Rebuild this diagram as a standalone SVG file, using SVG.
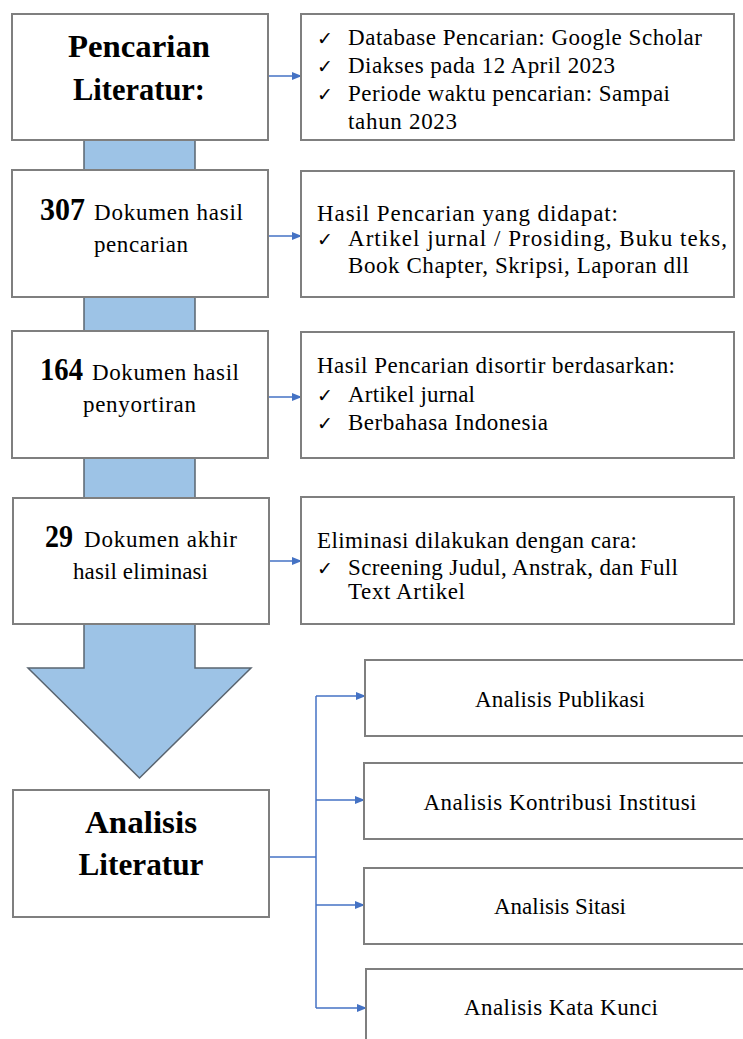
<svg xmlns="http://www.w3.org/2000/svg" width="743" height="1039" viewBox="0 0 743 1039">
<style>
.box{fill:#ffffff;stroke:#7f7f7f;stroke-width:2}
.t{font-family:"Liberation Serif","Times New Roman",serif;fill:#000}
.b{font-weight:bold}
.r{font-size:23px}
.ck{font-family:"DejaVu Sans",sans-serif;font-size:19px;fill:#000}
.con{fill:none;stroke:#4472c4;stroke-width:1.5}
</style>
<defs>
<marker id="ah" markerWidth="10" markerHeight="10" refX="9" refY="5" orient="auto" markerUnits="userSpaceOnUse">
<path d="M0,1 L10,5 L0,9 Z" fill="#4472c4"/>
</marker>
</defs>
<rect width="743" height="1039" fill="#ffffff"/>
<g id="big-arrow">
<polygon points="84,140 195,140 195,668 251,668 139.5,778 28,668 84,668" fill="#9dc3e6" stroke="#5a6570" stroke-width="1.5"/>
</g>
<g id="connectors">
<line class="con" x1="268" y1="76" x2="301" y2="76" marker-end="url(#ah)"/>
<line class="con" x1="268" y1="236" x2="301" y2="236" marker-end="url(#ah)"/>
<line class="con" x1="268" y1="397" x2="301" y2="397" marker-end="url(#ah)"/>
<line class="con" x1="268" y1="561" x2="301" y2="561" marker-end="url(#ah)"/>
<polyline class="con" points="269,857 316,857"/>
<line class="con" x1="316" y1="696" x2="316" y2="1008"/>
<line class="con" x1="316" y1="696" x2="365" y2="696" marker-end="url(#ah)"/>
<line class="con" x1="316" y1="800" x2="364" y2="800" marker-end="url(#ah)"/>
<line class="con" x1="316" y1="905" x2="364" y2="905" marker-end="url(#ah)"/>
<line class="con" x1="316" y1="1008" x2="366" y2="1008" marker-end="url(#ah)"/>
</g>
<g id="node-pencarian">
<rect class="box" x="12" y="14" width="256" height="126"/>
<text class="t b" font-size="31" x="139" y="57" text-anchor="middle" textLength="142" lengthAdjust="spacingAndGlyphs">Pencarian</text>
<text class="t b" font-size="31" x="139" y="100" text-anchor="middle" textLength="132" lengthAdjust="spacingAndGlyphs">Literatur:</text>
</g>
<g id="node-307">
<rect class="box" x="12" y="170" width="256" height="127"/>
<text class="t b" font-size="31" x="40" y="220" textLength="45" lengthAdjust="spacingAndGlyphs">307</text>
<text class="t r" x="94" y="220" textLength="149" lengthAdjust="spacing">Dokumen hasil</text>
<text class="t r" x="94" y="252" textLength="94" lengthAdjust="spacing">pencarian</text>
</g>
<g id="node-164">
<rect class="box" x="12" y="331" width="256" height="127"/>
<text class="t b" font-size="31" x="40" y="380" textLength="43" lengthAdjust="spacingAndGlyphs">164</text>
<text class="t r" x="92" y="380" textLength="147" lengthAdjust="spacing">Dokumen hasil</text>
<text class="t r" x="83" y="412" textLength="113" lengthAdjust="spacing">penyortiran</text>
</g>
<g id="node-29">
<rect class="box" x="13" y="498" width="256" height="126"/>
<text class="t b" font-size="31" x="45" y="547" textLength="28" lengthAdjust="spacingAndGlyphs">29</text>
<text class="t r" x="84" y="547" textLength="153" lengthAdjust="spacing">Dokumen akhir</text>
<text class="t r" x="73" y="579" textLength="135" lengthAdjust="spacing">hasil eliminasi</text>
</g>
<g id="node-analisis-literatur">
<rect class="box" x="13" y="790" width="256" height="127"/>
<text class="t b" font-size="31" x="141" y="833" text-anchor="middle" textLength="112" lengthAdjust="spacingAndGlyphs">Analisis</text>
<text class="t b" font-size="31" x="141" y="875" text-anchor="middle" textLength="125" lengthAdjust="spacingAndGlyphs">Literatur</text>
</g>
<g id="node-info-1">
<rect class="box" x="301" y="14" width="433" height="126"/>
<text class="ck" x="317" y="45">✓</text>
<text class="t r" x="348" y="45" textLength="354" lengthAdjust="spacing">Database Pencarian: Google Scholar</text>
<text class="ck" x="317" y="73">✓</text>
<text class="t r" x="348" y="73" textLength="267" lengthAdjust="spacing">Diakses pada 12 April 2023</text>
<text class="ck" x="317" y="101">✓</text>
<text class="t r" x="348" y="101" textLength="322" lengthAdjust="spacing">Periode waktu pencarian: Sampai</text>
<text class="t r" x="348" y="129" textLength="109" lengthAdjust="spacing">tahun 2023</text>
</g>
<g id="node-info-2">
<rect class="box" x="301" y="171" width="433" height="126"/>
<text class="t r" x="317" y="221" textLength="301" lengthAdjust="spacing">Hasil Pencarian yang didapat:</text>
<text class="ck" x="317" y="246">✓</text>
<text class="t r" x="348" y="246" textLength="379" lengthAdjust="spacing">Artikel jurnal / Prosiding, Buku teks,</text>
<text class="t r" x="348" y="273" textLength="341" lengthAdjust="spacing">Book Chapter, Skripsi, Laporan dll</text>
</g>
<g id="node-info-3">
<rect class="box" x="301" y="332" width="433" height="126"/>
<text class="t r" x="317" y="373" textLength="358" lengthAdjust="spacing">Hasil Pencarian disortir berdasarkan:</text>
<text class="ck" x="317" y="402">✓</text>
<text class="t r" x="348" y="402" textLength="127" lengthAdjust="spacing">Artikel jurnal</text>
<text class="ck" x="317" y="430">✓</text>
<text class="t r" x="348" y="430" textLength="200" lengthAdjust="spacing">Berbahasa Indonesia</text>
</g>
<g id="node-info-4">
<rect class="box" x="301" y="497" width="433" height="127"/>
<text class="t r" x="317" y="548" textLength="320" lengthAdjust="spacing">Eliminasi dilakukan dengan cara:</text>
<text class="ck" x="317" y="575">✓</text>
<text class="t r" x="348" y="575" textLength="330" lengthAdjust="spacing">Screening Judul, Anstrak, dan Full</text>
<text class="t r" x="348" y="599" textLength="117" lengthAdjust="spacing">Text Artikel</text>
</g>
<g id="node-publikasi">
<rect class="box" x="365" y="660" width="390" height="76"/>
<text class="t r" x="560" y="707" text-anchor="middle" textLength="170" lengthAdjust="spacing">Analisis Publikasi</text>
</g>
<g id="node-kontribusi">
<rect class="box" x="364" y="763" width="390" height="76"/>
<text class="t r" x="560" y="810" text-anchor="middle" textLength="273" lengthAdjust="spacing">Analisis Kontribusi Institusi</text>
</g>
<g id="node-sitasi">
<rect class="box" x="364" y="868" width="390" height="76"/>
<text class="t r" x="560" y="914" text-anchor="middle" textLength="132" lengthAdjust="spacing">Analisis Sitasi</text>
</g>
<g id="node-kata-kunci">
<rect class="box" x="366" y="969" width="390" height="80"/>
<text class="t r" x="561" y="1015" text-anchor="middle" textLength="194" lengthAdjust="spacing">Analisis Kata Kunci</text>
</g>
</svg>
